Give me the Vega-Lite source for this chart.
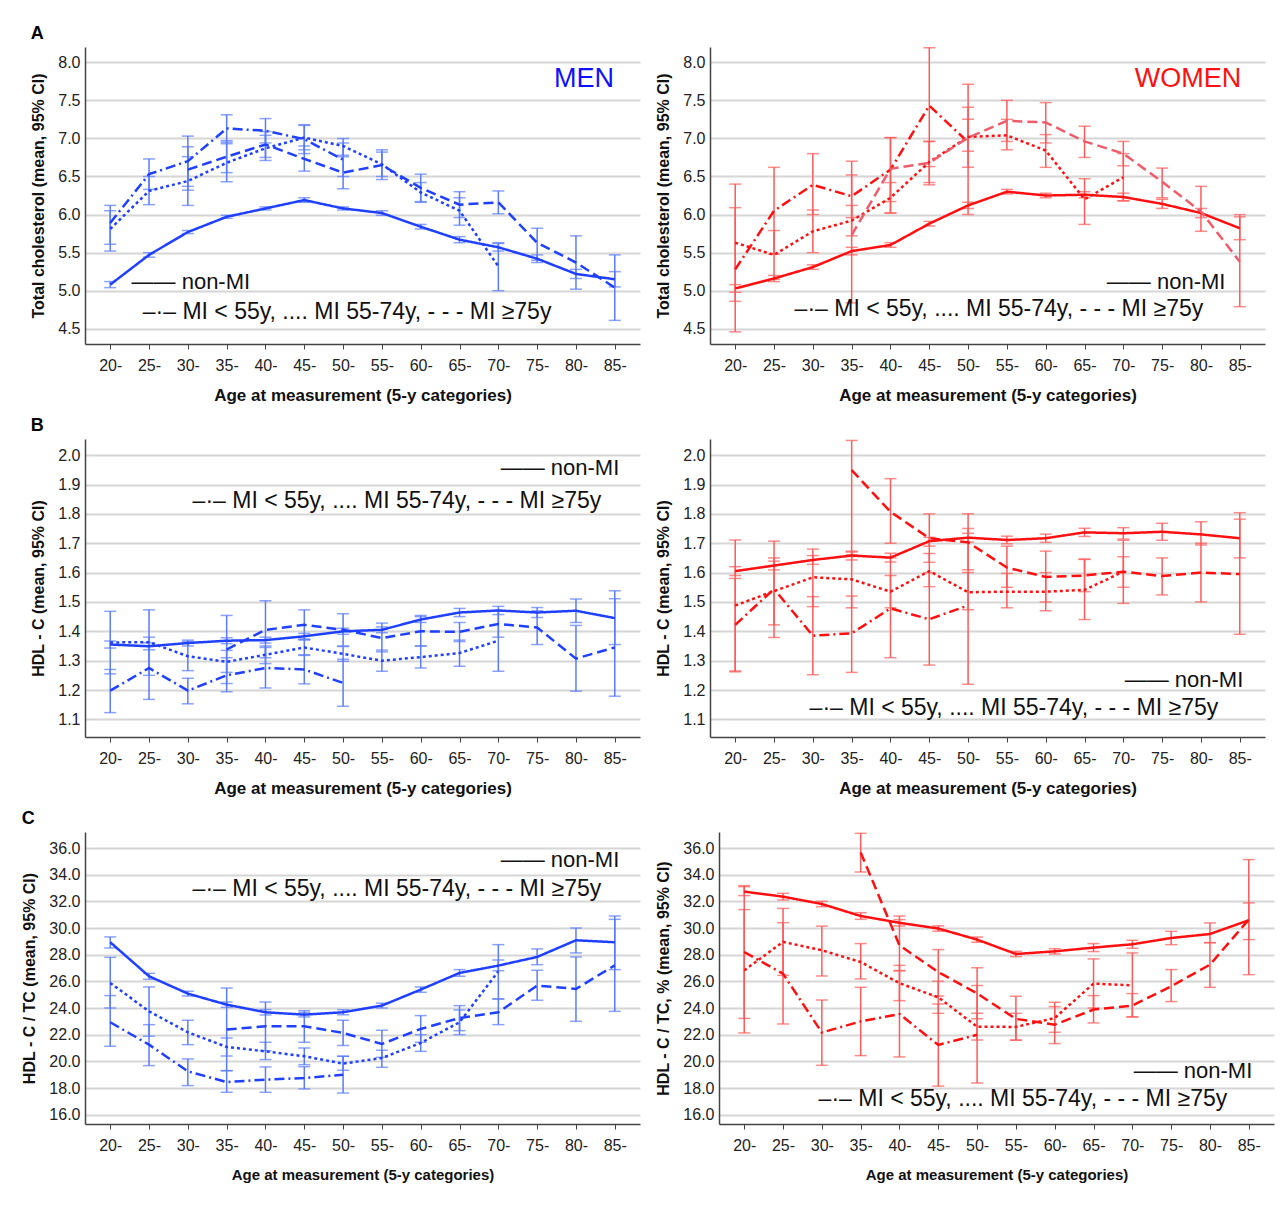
{
"$schema":"https://vega.github.io/schema/vega-lite/v6.json",
"padding":{"left":21,"top":25,"right":5,"bottom":5},
"background":"white",
"datasets":{
"d":[
{"p":"Am","g":"n","a":"20-","m":5.08,"lo":5.04,"hi":5.12},
{"p":"Am","g":"n","a":"25-","m":5.47,"lo":5.44,"hi":5.50},
{"p":"Am","g":"n","a":"30-","m":5.77,"lo":5.75,"hi":5.79},
{"p":"Am","g":"n","a":"35-","m":5.97,"lo":5.95,"hi":5.99},
{"p":"Am","g":"n","a":"40-","m":6.08,"lo":6.06,"hi":6.10},
{"p":"Am","g":"n","a":"45-","m":6.19,"lo":6.16,"hi":6.22},
{"p":"Am","g":"n","a":"50-","m":6.08,"lo":6.06,"hi":6.10},
{"p":"Am","g":"n","a":"55-","m":6.02,"lo":5.99,"hi":6.05},
{"p":"Am","g":"n","a":"60-","m":5.84,"lo":5.81,"hi":5.87},
{"p":"Am","g":"n","a":"65-","m":5.67,"lo":5.63,"hi":5.71},
{"p":"Am","g":"n","a":"70-","m":5.57,"lo":5.52,"hi":5.62},
{"p":"Am","g":"n","a":"75-","m":5.42,"lo":5.37,"hi":5.47},
{"p":"Am","g":"n","a":"80-","m":5.22,"lo":5.16,"hi":5.28},
{"p":"Am","g":"n","a":"85-","m":5.15,"lo":5.05,"hi":5.25},
{"p":"Am","g":"y","a":"20-","m":5.89,"lo":5.61,"hi":6.12},
{"p":"Am","g":"y","a":"25-","m":6.53,"lo":6.33,"hi":6.73},
{"p":"Am","g":"y","a":"30-","m":6.70,"lo":6.37,"hi":7.03},
{"p":"Am","g":"y","a":"35-","m":7.13,"lo":6.95,"hi":7.31},
{"p":"Am","g":"y","a":"40-","m":7.10,"lo":6.94,"hi":7.26},
{"p":"Am","g":"y","a":"45-","m":6.99,"lo":6.80,"hi":7.18},
{"p":"Am","g":"y","a":"50-","m":6.72,"lo":6.50,"hi":6.94},
{"p":"Am","g":"o","a":"20-","m":5.81,"lo":5.52,"hi":6.05},
{"p":"Am","g":"o","a":"25-","m":6.31,"lo":6.13,"hi":6.50},
{"p":"Am","g":"o","a":"30-","m":6.44,"lo":6.12,"hi":6.76},
{"p":"Am","g":"o","a":"35-","m":6.68,"lo":6.43,"hi":6.93},
{"p":"Am","g":"o","a":"40-","m":6.87,"lo":6.71,"hi":7.04},
{"p":"Am","g":"o","a":"45-","m":7.01,"lo":6.85,"hi":7.17},
{"p":"Am","g":"o","a":"50-","m":6.90,"lo":6.78,"hi":7.00},
{"p":"Am","g":"o","a":"55-","m":6.66,"lo":6.50,"hi":6.82},
{"p":"Am","g":"o","a":"60-","m":6.29,"lo":6.16,"hi":6.42},
{"p":"Am","g":"o","a":"65-","m":6.05,"lo":5.86,"hi":6.22},
{"p":"Am","g":"o","a":"70-","m":5.32,"lo":5.00,"hi":5.63},
{"p":"Am","g":"e","a":"30-","m":6.59,"lo":6.32,"hi":6.89},
{"p":"Am","g":"e","a":"35-","m":6.76,"lo":6.55,"hi":6.97},
{"p":"Am","g":"e","a":"40-","m":6.92,"lo":6.75,"hi":7.09},
{"p":"Am","g":"e","a":"45-","m":6.73,"lo":6.57,"hi":6.90},
{"p":"Am","g":"e","a":"50-","m":6.55,"lo":6.34,"hi":6.76},
{"p":"Am","g":"e","a":"55-","m":6.65,"lo":6.46,"hi":6.85},
{"p":"Am","g":"e","a":"60-","m":6.35,"lo":6.17,"hi":6.53},
{"p":"Am","g":"e","a":"65-","m":6.13,"lo":5.96,"hi":6.30},
{"p":"Am","g":"e","a":"70-","m":6.16,"lo":6.01,"hi":6.31},
{"p":"Am","g":"e","a":"75-","m":5.63,"lo":5.40,"hi":5.82},
{"p":"Am","g":"e","a":"80-","m":5.37,"lo":5.02,"hi":5.72},
{"p":"Am","g":"e","a":"85-","m":5.04,"lo":4.61,"hi":5.47},

{"p":"Aw","g":"n","a":"20-","m":5.03,"lo":4.98,"hi":5.08},
{"p":"Aw","g":"n","a":"25-","m":5.16,"lo":5.12,"hi":5.20},
{"p":"Aw","g":"n","a":"30-","m":5.31,"lo":5.28,"hi":5.34},
{"p":"Aw","g":"n","a":"35-","m":5.52,"lo":5.47,"hi":5.57},
{"p":"Aw","g":"n","a":"40-","m":5.60,"lo":5.57,"hi":5.63},
{"p":"Aw","g":"n","a":"45-","m":5.88,"lo":5.85,"hi":5.91},
{"p":"Aw","g":"n","a":"50-","m":6.12,"lo":6.08,"hi":6.16},
{"p":"Aw","g":"n","a":"55-","m":6.30,"lo":6.27,"hi":6.33},
{"p":"Aw","g":"n","a":"60-","m":6.25,"lo":6.22,"hi":6.28},
{"p":"Aw","g":"n","a":"65-","m":6.26,"lo":6.22,"hi":6.30},
{"p":"Aw","g":"n","a":"70-","m":6.23,"lo":6.18,"hi":6.28},
{"p":"Aw","g":"n","a":"75-","m":6.14,"lo":6.08,"hi":6.20},
{"p":"Aw","g":"n","a":"80-","m":6.02,"lo":5.96,"hi":6.08},
{"p":"Aw","g":"n","a":"85-","m":5.82,"lo":5.67,"hi":5.97},
{"p":"Aw","g":"y","a":"20-","m":5.28,"lo":4.46,"hi":6.40},
{"p":"Aw","g":"y","a":"25-","m":6.05,"lo":5.48,"hi":6.62},
{"p":"Aw","g":"y","a":"30-","m":6.39,"lo":6.00,"hi":6.80},
{"p":"Aw","g":"y","a":"35-","m":6.24,"lo":5.96,"hi":6.52},
{"p":"Aw","g":"y","a":"40-","m":6.59,"lo":6.17,"hi":7.01},
{"p":"Aw","g":"y","a":"45-","m":7.43,"lo":6.63,"hi":8.19},
{"p":"Aw","g":"y","a":"50-","m":6.95,"lo":6.00,"hi":7.71},
{"p":"Aw","g":"o","a":"20-","m":5.63,"lo":4.86,"hi":6.09},
{"p":"Aw","g":"o","a":"25-","m":5.47,"lo":5.15,"hi":5.79},
{"p":"Aw","g":"o","a":"30-","m":5.78,"lo":5.50,"hi":6.06},
{"p":"Aw","g":"o","a":"35-","m":5.92,"lo":5.72,"hi":6.12},
{"p":"Aw","g":"o","a":"40-","m":6.22,"lo":6.02,"hi":6.42},
{"p":"Aw","g":"o","a":"45-","m":6.69,"lo":6.42,"hi":6.96},
{"p":"Aw","g":"o","a":"50-","m":7.02,"lo":6.62,"hi":7.41},
{"p":"Aw","g":"o","a":"55-","m":7.04,"lo":6.85,"hi":7.25},
{"p":"Aw","g":"o","a":"60-","m":6.84,"lo":6.62,"hi":7.05},
{"p":"Aw","g":"o","a":"65-","m":6.20,"lo":5.87,"hi":6.47},
{"p":"Aw","g":"o","a":"70-","m":6.49,"lo":6.18,"hi":6.80},
{"p":"Aw","g":"e","a":"35-","m":5.73,"lo":4.84,"hi":6.70},
{"p":"Aw","g":"e","a":"40-","m":6.60,"lo":6.02,"hi":7.01},
{"p":"Aw","g":"e","a":"45-","m":6.68,"lo":6.39,"hi":6.96},
{"p":"Aw","g":"e","a":"50-","m":7.01,"lo":6.83,"hi":7.25},
{"p":"Aw","g":"e","a":"55-","m":7.23,"lo":6.96,"hi":7.50},
{"p":"Aw","g":"e","a":"60-","m":7.21,"lo":6.94,"hi":7.47},
{"p":"Aw","g":"e","a":"65-","m":6.96,"lo":6.75,"hi":7.16},
{"p":"Aw","g":"e","a":"70-","m":6.80,"lo":6.64,"hi":6.96},
{"p":"Aw","g":"e","a":"75-","m":6.43,"lo":6.22,"hi":6.61},
{"p":"Aw","g":"e","a":"80-","m":6.04,"lo":5.78,"hi":6.37},
{"p":"Aw","g":"e","a":"85-","m":5.38,"lo":4.79,"hi":6.00},

{"p":"Bm","g":"n","a":"20-","m":1.355,"lo":1.343,"hi":1.367},
{"p":"Bm","g":"n","a":"25-","m":1.349,"lo":1.337,"hi":1.361},
{"p":"Bm","g":"n","a":"30-","m":1.360,"lo":1.350,"hi":1.370},
{"p":"Bm","g":"n","a":"35-","m":1.368,"lo":1.358,"hi":1.378},
{"p":"Bm","g":"n","a":"40-","m":1.370,"lo":1.360,"hi":1.380},
{"p":"Bm","g":"n","a":"45-","m":1.383,"lo":1.373,"hi":1.393},
{"p":"Bm","g":"n","a":"50-","m":1.400,"lo":1.390,"hi":1.410},
{"p":"Bm","g":"n","a":"55-","m":1.405,"lo":1.395,"hi":1.415},
{"p":"Bm","g":"n","a":"60-","m":1.440,"lo":1.430,"hi":1.450},
{"p":"Bm","g":"n","a":"65-","m":1.464,"lo":1.450,"hi":1.478},
{"p":"Bm","g":"n","a":"70-","m":1.471,"lo":1.457,"hi":1.485},
{"p":"Bm","g":"n","a":"75-","m":1.464,"lo":1.447,"hi":1.481},
{"p":"Bm","g":"n","a":"80-","m":1.470,"lo":1.430,"hi":1.510},
{"p":"Bm","g":"n","a":"85-","m":1.445,"lo":1.355,"hi":1.538},
{"p":"Bm","g":"y","a":"20-","m":1.198,"lo":1.123,"hi":1.270},
{"p":"Bm","g":"y","a":"25-","m":1.275,"lo":1.168,"hi":1.380},
{"p":"Bm","g":"y","a":"30-","m":1.198,"lo":1.153,"hi":1.240},
{"p":"Bm","g":"y","a":"35-","m":1.250,"lo":1.194,"hi":1.310},
{"p":"Bm","g":"y","a":"40-","m":1.275,"lo":1.207,"hi":1.345},
{"p":"Bm","g":"y","a":"45-","m":1.270,"lo":1.221,"hi":1.320},
{"p":"Bm","g":"y","a":"50-","m":1.224,"lo":1.145,"hi":1.305},
{"p":"Bm","g":"o","a":"20-","m":1.362,"lo":1.255,"hi":1.468},
{"p":"Bm","g":"o","a":"25-","m":1.363,"lo":1.250,"hi":1.473},
{"p":"Bm","g":"o","a":"30-","m":1.315,"lo":1.266,"hi":1.365},
{"p":"Bm","g":"o","a":"35-","m":1.296,"lo":1.260,"hi":1.335},
{"p":"Bm","g":"o","a":"40-","m":1.320,"lo":1.290,"hi":1.350},
{"p":"Bm","g":"o","a":"45-","m":1.345,"lo":1.318,"hi":1.373},
{"p":"Bm","g":"o","a":"50-","m":1.323,"lo":1.298,"hi":1.348},
{"p":"Bm","g":"o","a":"55-","m":1.300,"lo":1.264,"hi":1.336},
{"p":"Bm","g":"o","a":"60-","m":1.312,"lo":1.275,"hi":1.350},
{"p":"Bm","g":"o","a":"65-","m":1.326,"lo":1.281,"hi":1.370},
{"p":"Bm","g":"o","a":"70-","m":1.368,"lo":1.264,"hi":1.470},
{"p":"Bm","g":"e","a":"35-","m":1.338,"lo":1.222,"hi":1.454},
{"p":"Bm","g":"e","a":"40-","m":1.405,"lo":1.310,"hi":1.504},
{"p":"Bm","g":"e","a":"45-","m":1.422,"lo":1.370,"hi":1.473},
{"p":"Bm","g":"e","a":"50-","m":1.405,"lo":1.350,"hi":1.460},
{"p":"Bm","g":"e","a":"55-","m":1.377,"lo":1.330,"hi":1.428},
{"p":"Bm","g":"e","a":"60-","m":1.400,"lo":1.350,"hi":1.454},
{"p":"Bm","g":"e","a":"65-","m":1.398,"lo":1.365,"hi":1.430},
{"p":"Bm","g":"e","a":"70-","m":1.425,"lo":1.380,"hi":1.470},
{"p":"Bm","g":"e","a":"75-","m":1.413,"lo":1.355,"hi":1.470},
{"p":"Bm","g":"e","a":"80-","m":1.307,"lo":1.196,"hi":1.420},
{"p":"Bm","g":"e","a":"85-","m":1.345,"lo":1.179,"hi":1.511},

{"p":"Bw","g":"n","a":"20-","m":1.605,"lo":1.590,"hi":1.620},
{"p":"Bw","g":"n","a":"25-","m":1.624,"lo":1.609,"hi":1.639},
{"p":"Bw","g":"n","a":"30-","m":1.643,"lo":1.628,"hi":1.658},
{"p":"Bw","g":"n","a":"35-","m":1.658,"lo":1.643,"hi":1.673},
{"p":"Bw","g":"n","a":"40-","m":1.651,"lo":1.636,"hi":1.666},
{"p":"Bw","g":"n","a":"45-","m":1.707,"lo":1.690,"hi":1.720},
{"p":"Bw","g":"n","a":"50-","m":1.719,"lo":1.704,"hi":1.734},
{"p":"Bw","g":"n","a":"55-","m":1.711,"lo":1.698,"hi":1.724},
{"p":"Bw","g":"n","a":"60-","m":1.717,"lo":1.703,"hi":1.731},
{"p":"Bw","g":"n","a":"65-","m":1.737,"lo":1.723,"hi":1.751},
{"p":"Bw","g":"n","a":"70-","m":1.734,"lo":1.714,"hi":1.753},
{"p":"Bw","g":"n","a":"75-","m":1.739,"lo":1.710,"hi":1.768},
{"p":"Bw","g":"n","a":"80-","m":1.730,"lo":1.694,"hi":1.773},
{"p":"Bw","g":"n","a":"85-","m":1.717,"lo":1.650,"hi":1.782},
{"p":"Bw","g":"y","a":"20-","m":1.422,"lo":1.262,"hi":1.580},
{"p":"Bw","g":"y","a":"25-","m":1.544,"lo":1.379,"hi":1.707},
{"p":"Bw","g":"y","a":"30-","m":1.385,"lo":1.252,"hi":1.518},
{"p":"Bw","g":"y","a":"35-","m":1.393,"lo":1.260,"hi":1.520},
{"p":"Bw","g":"y","a":"40-","m":1.478,"lo":1.310,"hi":1.650},
{"p":"Bw","g":"y","a":"45-","m":1.441,"lo":1.285,"hi":1.600},
{"p":"Bw","g":"y","a":"50-","m":1.488,"lo":1.220,"hi":1.750},
{"p":"Bw","g":"o","a":"20-","m":1.488,"lo":1.265,"hi":1.711},
{"p":"Bw","g":"o","a":"25-","m":1.537,"lo":1.422,"hi":1.650},
{"p":"Bw","g":"o","a":"30-","m":1.584,"lo":1.484,"hi":1.680},
{"p":"Bw","g":"o","a":"35-","m":1.577,"lo":1.480,"hi":1.670},
{"p":"Bw","g":"o","a":"40-","m":1.535,"lo":1.480,"hi":1.590},
{"p":"Bw","g":"o","a":"45-","m":1.605,"lo":1.552,"hi":1.665},
{"p":"Bw","g":"o","a":"50-","m":1.533,"lo":1.473,"hi":1.600},
{"p":"Bw","g":"o","a":"55-","m":1.535,"lo":1.480,"hi":1.597},
{"p":"Bw","g":"o","a":"60-","m":1.535,"lo":1.470,"hi":1.600},
{"p":"Bw","g":"o","a":"65-","m":1.541,"lo":1.440,"hi":1.645},
{"p":"Bw","g":"o","a":"70-","m":1.603,"lo":1.495,"hi":1.710},
{"p":"Bw","g":"e","a":"35-","m":1.949,"lo":1.660,"hi":2.050},
{"p":"Bw","g":"e","a":"40-","m":1.807,"lo":1.700,"hi":1.920},
{"p":"Bw","g":"e","a":"45-","m":1.717,"lo":1.635,"hi":1.800},
{"p":"Bw","g":"e","a":"50-","m":1.703,"lo":1.610,"hi":1.800},
{"p":"Bw","g":"e","a":"55-","m":1.617,"lo":1.550,"hi":1.690},
{"p":"Bw","g":"e","a":"60-","m":1.585,"lo":1.500,"hi":1.673},
{"p":"Bw","g":"e","a":"65-","m":1.590,"lo":1.535,"hi":1.646},
{"p":"Bw","g":"e","a":"70-","m":1.603,"lo":1.550,"hi":1.654},
{"p":"Bw","g":"e","a":"75-","m":1.588,"lo":1.524,"hi":1.650},
{"p":"Bw","g":"e","a":"80-","m":1.600,"lo":1.500,"hi":1.700},
{"p":"Bw","g":"e","a":"85-","m":1.595,"lo":1.390,"hi":1.804},

{"p":"Cm","g":"n","a":"20-","m":28.93,"lo":28.5,"hi":29.33},
{"p":"Cm","g":"n","a":"25-","m":26.38,"lo":26.15,"hi":26.6},
{"p":"Cm","g":"n","a":"30-","m":25.08,"lo":24.9,"hi":25.26},
{"p":"Cm","g":"n","a":"35-","m":24.25,"lo":24.05,"hi":24.45},
{"p":"Cm","g":"n","a":"40-","m":23.68,"lo":23.48,"hi":23.88},
{"p":"Cm","g":"n","a":"45-","m":23.5,"lo":23.33,"hi":23.67},
{"p":"Cm","g":"n","a":"50-","m":23.68,"lo":23.5,"hi":23.86},
{"p":"Cm","g":"n","a":"55-","m":24.18,"lo":24.0,"hi":24.36},
{"p":"Cm","g":"n","a":"60-","m":25.38,"lo":25.18,"hi":25.58},
{"p":"Cm","g":"n","a":"65-","m":26.63,"lo":26.38,"hi":26.88},
{"p":"Cm","g":"n","a":"70-","m":27.18,"lo":26.8,"hi":27.6},
{"p":"Cm","g":"n","a":"75-","m":27.83,"lo":27.25,"hi":28.43},
{"p":"Cm","g":"n","a":"80-","m":29.08,"lo":28.13,"hi":30.0},
{"p":"Cm","g":"n","a":"85-","m":28.93,"lo":26.88,"hi":30.9},
{"p":"Cm","g":"y","a":"20-","m":22.93,"lo":21.13,"hi":24.93},
{"p":"Cm","g":"y","a":"25-","m":21.25,"lo":19.68,"hi":22.75},
{"p":"Cm","g":"y","a":"30-","m":19.25,"lo":18.18,"hi":20.18},
{"p":"Cm","g":"y","a":"35-","m":18.45,"lo":17.68,"hi":19.3},
{"p":"Cm","g":"y","a":"40-","m":18.63,"lo":17.68,"hi":19.58},
{"p":"Cm","g":"y","a":"45-","m":18.75,"lo":17.93,"hi":19.6},
{"p":"Cm","g":"y","a":"50-","m":19.0,"lo":17.63,"hi":20.38},
{"p":"Cm","g":"o","a":"20-","m":25.88,"lo":24.0,"hi":27.8},
{"p":"Cm","g":"o","a":"25-","m":23.75,"lo":21.88,"hi":25.58},
{"p":"Cm","g":"o","a":"30-","m":22.18,"lo":21.25,"hi":23.08},
{"p":"Cm","g":"o","a":"35-","m":21.08,"lo":20.4,"hi":21.75},
{"p":"Cm","g":"o","a":"40-","m":20.75,"lo":20.13,"hi":21.43},
{"p":"Cm","g":"o","a":"45-","m":20.38,"lo":19.75,"hi":21.0},
{"p":"Cm","g":"o","a":"50-","m":19.83,"lo":19.33,"hi":20.38},
{"p":"Cm","g":"o","a":"55-","m":20.25,"lo":19.55,"hi":20.83},
{"p":"Cm","g":"o","a":"60-","m":21.38,"lo":20.75,"hi":22.0},
{"p":"Cm","g":"o","a":"65-","m":22.93,"lo":22.0,"hi":23.85},
{"p":"Cm","g":"o","a":"70-","m":26.75,"lo":24.68,"hi":28.75},
{"p":"Cm","g":"e","a":"35-","m":22.38,"lo":19.3,"hi":25.5},
{"p":"Cm","g":"e","a":"40-","m":22.63,"lo":20.8,"hi":24.45},
{"p":"Cm","g":"e","a":"45-","m":22.63,"lo":21.43,"hi":23.8},
{"p":"Cm","g":"e","a":"50-","m":22.13,"lo":21.18,"hi":23.08},
{"p":"Cm","g":"e","a":"55-","m":21.3,"lo":20.3,"hi":22.33},
{"p":"Cm","g":"e","a":"60-","m":22.43,"lo":21.43,"hi":23.43},
{"p":"Cm","g":"e","a":"65-","m":23.25,"lo":22.3,"hi":24.18},
{"p":"Cm","g":"e","a":"70-","m":23.68,"lo":22.75,"hi":24.68},
{"p":"Cm","g":"e","a":"75-","m":25.68,"lo":24.58,"hi":26.83},
{"p":"Cm","g":"e","a":"80-","m":25.43,"lo":23.0,"hi":27.83},
{"p":"Cm","g":"e","a":"85-","m":27.2,"lo":23.75,"hi":30.65},

{"p":"Cw","g":"n","a":"20-","m":32.73,"lo":32.43,"hi":33.18},
{"p":"Cw","g":"n","a":"25-","m":32.35,"lo":32.1,"hi":32.6},
{"p":"Cw","g":"n","a":"30-","m":31.8,"lo":31.6,"hi":32.0},
{"p":"Cw","g":"n","a":"35-","m":30.9,"lo":30.65,"hi":31.15},
{"p":"Cw","g":"n","a":"40-","m":30.39,"lo":30.15,"hi":30.63},
{"p":"Cw","g":"n","a":"45-","m":29.96,"lo":29.76,"hi":30.16},
{"p":"Cw","g":"n","a":"50-","m":29.13,"lo":28.93,"hi":29.33},
{"p":"Cw","g":"n","a":"55-","m":28.05,"lo":27.85,"hi":28.25},
{"p":"Cw","g":"n","a":"60-","m":28.25,"lo":28.05,"hi":28.45},
{"p":"Cw","g":"n","a":"65-","m":28.53,"lo":28.23,"hi":28.83},
{"p":"Cw","g":"n","a":"70-","m":28.78,"lo":28.48,"hi":29.08},
{"p":"Cw","g":"n","a":"75-","m":29.25,"lo":28.75,"hi":29.75},
{"p":"Cw","g":"n","a":"80-","m":29.55,"lo":28.9,"hi":30.38},
{"p":"Cw","g":"n","a":"85-","m":30.58,"lo":29.13,"hi":31.88},
{"p":"Cw","g":"y","a":"20-","m":28.2,"lo":23.22,"hi":33.1},
{"p":"Cw","g":"y","a":"25-","m":26.57,"lo":22.8,"hi":30.4},
{"p":"Cw","g":"y","a":"30-","m":22.16,"lo":19.7,"hi":24.6},
{"p":"Cw","g":"y","a":"35-","m":22.99,"lo":20.43,"hi":25.55},
{"p":"Cw","g":"y","a":"40-","m":23.55,"lo":20.33,"hi":26.8},
{"p":"Cw","g":"y","a":"45-","m":21.23,"lo":18.14,"hi":24.3},
{"p":"Cw","g":"y","a":"50-","m":21.99,"lo":18.38,"hi":25.68},
{"p":"Cw","g":"o","a":"20-","m":26.82,"lo":22.13,"hi":31.38},
{"p":"Cw","g":"o","a":"25-","m":28.96,"lo":26.45,"hi":31.47},
{"p":"Cw","g":"o","a":"30-","m":28.33,"lo":26.4,"hi":30.14},
{"p":"Cw","g":"o","a":"35-","m":27.45,"lo":26.18,"hi":28.83},
{"p":"Cw","g":"o","a":"40-","m":25.86,"lo":24.55,"hi":27.2},
{"p":"Cw","g":"o","a":"45-","m":24.8,"lo":23.6,"hi":26.0},
{"p":"Cw","g":"o","a":"50-","m":22.6,"lo":21.6,"hi":23.6},
{"p":"Cw","g":"o","a":"55-","m":22.58,"lo":21.6,"hi":23.6},
{"p":"Cw","g":"o","a":"60-","m":23.25,"lo":22.18,"hi":24.43},
{"p":"Cw","g":"o","a":"65-","m":25.83,"lo":24.0,"hi":27.68},
{"p":"Cw","g":"o","a":"70-","m":25.7,"lo":23.33,"hi":28.13},
{"p":"Cw","g":"e","a":"35-","m":35.67,"lo":34.2,"hi":37.1},
{"p":"Cw","g":"e","a":"40-","m":28.7,"lo":26.8,"hi":30.9},
{"p":"Cw","g":"e","a":"45-","m":26.69,"lo":24.9,"hi":28.38},
{"p":"Cw","g":"e","a":"50-","m":25.1,"lo":23.2,"hi":27.02},
{"p":"Cw","g":"e","a":"55-","m":23.18,"lo":21.58,"hi":24.88},
{"p":"Cw","g":"e","a":"60-","m":22.75,"lo":21.33,"hi":24.1},
{"p":"Cw","g":"e","a":"65-","m":23.88,"lo":22.88,"hi":24.93},
{"p":"Cw","g":"e","a":"70-","m":24.18,"lo":23.33,"hi":25.08},
{"p":"Cw","g":"e","a":"75-","m":25.63,"lo":24.48,"hi":26.88},
{"p":"Cw","g":"e","a":"80-","m":27.25,"lo":25.55,"hi":28.9},
{"p":"Cw","g":"e","a":"85-","m":30.63,"lo":26.5,"hi":35.13}
],
"notes":[
{"p":"Am","k":"n","a":"30-","v":5.11,"t":"—— non-MI"},
{"p":"Am","k":"g","a":"50-","v":4.72,"t":"–·–  MI < 55y,   .... MI 55-74y,   - - -  MI ≥75y"},
{"p":"Am","k":"s","a":"80-","v":7.78,"t":"MEN"},
{"p":"Aw","k":"n","a":"75-","v":5.11,"t":"—— non-MI"},
{"p":"Aw","k":"g","a":"55-","v":4.76,"t":"–·–  MI < 55y,   .... MI 55-74y,   - - -  MI ≥75y"},
{"p":"Aw","k":"s","a":"80-","v":7.78,"t":"WOMEN"},
{"p":"Bm","k":"n","a":"80-","v":1.956,"t":"—— non-MI"},
{"p":"Bm","k":"g","a":"55-","v":1.844,"t":"–·–  MI < 55y,   .... MI 55-74y,   - - -  MI ≥75y"},
{"p":"Bw","k":"n","a":"80-","v":1.235,"t":"—— non-MI"},
{"p":"Bw","k":"g","a":"55-","v":1.14,"t":"–·–  MI < 55y,   .... MI 55-74y,   - - -  MI ≥75y"},
{"p":"Cm","k":"n","a":"80-","v":35.1,"t":"—— non-MI"},
{"p":"Cm","k":"g","a":"55-","v":32.93,"t":"–·–  MI < 55y,   .... MI 55-74y,   - - -  MI ≥75y"},
{"p":"Cw","k":"n","a":"80-","v":19.3,"t":"—— non-MI"},
{"p":"Cw","k":"g","a":"55-","v":17.2,"t":"–·–  MI < 55y,   .... MI 55-74y,   - - -  MI ≥75y"}
]
},
"spacing":14,
"vconcat":[
{"title":{"text":"A"},"spacing":15,"hconcat":[
{"width":555,"height":297,
 "encoding":{"x":{"field":"a","type":"ordinal","scale":{"type":"point","padding":0.65,"domain":["20-","25-","30-","35-","40-","45-","50-","55-","60-","65-","70-","75-","80-","85-"]},"axis":{"title":"Age at measurement (5-y categories)"}}},
 "layer":[
  {"data":{"name":"d"},"transform":[{"filter":"datum.p=='Am'"}],"mark":{"type":"rule","color":"#5a7bff","strokeWidth":1.5},
   "encoding":{"y":{"field":"lo","type":"quantitative","scale":{"domain":[4.3,8.2],"nice":false,"zero":false},"axis":{"title":"Total cholesterol (mean, 95% CI)","values":[4.5,5,5.5,6,6.5,7,7.5,8],"tickCount":20,"format":".1f"}},"y2":{"field":"hi"}}},
  {"data":{"name":"d"},"transform":[{"filter":"datum.p=='Am'"}],"mark":{"type":"tick","color":"#5a7bff","size":12,"thickness":1.5},
   "encoding":{"y":{"field":"lo","type":"quantitative","scale":{"domain":[4.3,8.2],"nice":false,"zero":false}}}},
  {"data":{"name":"d"},"transform":[{"filter":"datum.p=='Am'"}],"mark":{"type":"tick","color":"#5a7bff","size":12,"thickness":1.5},
   "encoding":{"y":{"field":"hi","type":"quantitative","scale":{"domain":[4.3,8.2],"nice":false,"zero":false}}}},
  {"data":{"name":"d"},"transform":[{"filter":"datum.p=='Am'"}],"mark":{"type":"line","color":"#1f40ff","strokeWidth":2.5},
   "encoding":{"y":{"field":"m","type":"quantitative","scale":{"domain":[4.3,8.2],"nice":false,"zero":false}},"strokeDash":{"field":"g","type":"nominal","scale":{"domain":["n","y","o","e"],"range":[[1,0],[10,4,2,4],[3,3],[10,5]]},"legend":null}}},
  {"data":{"name":"notes"},"transform":[{"filter":"datum.p=='Am' && datum.k=='n'"}],"mark":{"type":"text","fontSize":22,"dx":3,"color":"#111"},
   "encoding":{"y":{"field":"v","type":"quantitative","scale":{"domain":[4.3,8.2],"nice":false,"zero":false}},"text":{"field":"t"}}},
  {"data":{"name":"notes"},"transform":[{"filter":"datum.p=='Am' && datum.k=='g'"}],"mark":{"type":"text","fontSize":23,"dx":4,"color":"#111"},
   "encoding":{"y":{"field":"v","type":"quantitative","scale":{"domain":[4.3,8.2],"nice":false,"zero":false}},"text":{"field":"t"}}},
  {"data":{"name":"notes"},"transform":[{"filter":"datum.p=='Am' && datum.k=='s'"}],"mark":{"type":"text","fontSize":27,"dx":8,"color":"#1010ff"},
   "encoding":{"y":{"field":"v","type":"quantitative","scale":{"domain":[4.3,8.2],"nice":false,"zero":false}},"text":{"field":"t"}}}
 ]},
{"width":555,"height":297,
 "encoding":{"x":{"field":"a","type":"ordinal","scale":{"type":"point","padding":0.65,"domain":["20-","25-","30-","35-","40-","45-","50-","55-","60-","65-","70-","75-","80-","85-"]},"axis":{"title":"Age at measurement (5-y categories)"}}},
 "layer":[
  {"data":{"name":"d"},"transform":[{"filter":"datum.p=='Aw'"}],"mark":{"type":"rule","color":"#ff5a5a","strokeWidth":1.5},
   "encoding":{"y":{"field":"lo","type":"quantitative","scale":{"domain":[4.3,8.2],"nice":false,"zero":false},"axis":{"title":"Total cholesterol (mean, 95% CI)","values":[4.5,5,5.5,6,6.5,7,7.5,8],"tickCount":20,"format":".1f"}},"y2":{"field":"hi"}}},
  {"data":{"name":"d"},"transform":[{"filter":"datum.p=='Aw'"}],"mark":{"type":"tick","color":"#ff5a5a","size":12,"thickness":1.5},
   "encoding":{"y":{"field":"lo","type":"quantitative","scale":{"domain":[4.3,8.2],"nice":false,"zero":false}}}},
  {"data":{"name":"d"},"transform":[{"filter":"datum.p=='Aw'"}],"mark":{"type":"tick","color":"#ff5a5a","size":12,"thickness":1.5},
   "encoding":{"y":{"field":"hi","type":"quantitative","scale":{"domain":[4.3,8.2],"nice":false,"zero":false}}}},
  {"data":{"name":"d"},"transform":[{"filter":"datum.p=='Aw' && datum.g!='e'"}],"mark":{"type":"line","color":"#ff1010","strokeWidth":2.5},
   "encoding":{"y":{"field":"m","type":"quantitative","scale":{"domain":[4.3,8.2],"nice":false,"zero":false}},"strokeDash":{"field":"g","type":"nominal","scale":{"domain":["n","y","o","e"],"range":[[1,0],[10,4,2,4],[3,3],[10,5]]},"legend":null}}},
  {"data":{"name":"d"},"transform":[{"filter":"datum.p=='Aw' && datum.g=='e'"}],"mark":{"type":"line","color":"#ee5c6c","strokeWidth":2.5},
   "encoding":{"y":{"field":"m","type":"quantitative","scale":{"domain":[4.3,8.2],"nice":false,"zero":false}},"strokeDash":{"field":"g","type":"nominal","scale":{"domain":["n","y","o","e"],"range":[[1,0],[10,4,2,4],[3,3],[10,5]]},"legend":null}}},
  {"data":{"name":"notes"},"transform":[{"filter":"datum.p=='Aw' && datum.k=='n'"}],"mark":{"type":"text","fontSize":22,"dx":4,"color":"#111"},
   "encoding":{"y":{"field":"v","type":"quantitative","scale":{"domain":[4.3,8.2],"nice":false,"zero":false}},"text":{"field":"t"}}},
  {"data":{"name":"notes"},"transform":[{"filter":"datum.p=='Aw' && datum.k=='g'"}],"mark":{"type":"text","fontSize":23,"dx":-8,"color":"#111"},
   "encoding":{"y":{"field":"v","type":"quantitative","scale":{"domain":[4.3,8.2],"nice":false,"zero":false}},"text":{"field":"t"}}},
  {"data":{"name":"notes"},"transform":[{"filter":"datum.p=='Aw' && datum.k=='s'"}],"mark":{"type":"text","fontSize":27,"dx":-13,"color":"#ff1010"},
   "encoding":{"y":{"field":"v","type":"quantitative","scale":{"domain":[4.3,8.2],"nice":false,"zero":false}},"text":{"field":"t"}}}
 ]}
]},
{"title":{"text":"B"},"spacing":15,"hconcat":[
{"width":555,"height":298,
 "encoding":{"x":{"field":"a","type":"ordinal","scale":{"type":"point","padding":0.65,"domain":["20-","25-","30-","35-","40-","45-","50-","55-","60-","65-","70-","75-","80-","85-"]},"axis":{"title":"Age at measurement (5-y categories)"}}},
 "layer":[
  {"data":{"name":"d"},"transform":[{"filter":"datum.p=='Bm'"}],"mark":{"type":"rule","color":"#5a7bff","strokeWidth":1.5},
   "encoding":{"y":{"field":"lo","type":"quantitative","scale":{"domain":[1.04,2.055],"nice":false,"zero":false},"axis":{"title":"HDL - C (mean, 95% CI)","values":[1.1,1.2,1.3,1.4,1.5,1.6,1.7,1.8,1.9,2.0],"tickCount":20,"format":".1f"}},"y2":{"field":"hi"}}},
  {"data":{"name":"d"},"transform":[{"filter":"datum.p=='Bm'"}],"mark":{"type":"tick","color":"#5a7bff","size":12,"thickness":1.5},
   "encoding":{"y":{"field":"lo","type":"quantitative","scale":{"domain":[1.04,2.055],"nice":false,"zero":false}}}},
  {"data":{"name":"d"},"transform":[{"filter":"datum.p=='Bm'"}],"mark":{"type":"tick","color":"#5a7bff","size":12,"thickness":1.5},
   "encoding":{"y":{"field":"hi","type":"quantitative","scale":{"domain":[1.04,2.055],"nice":false,"zero":false}}}},
  {"data":{"name":"d"},"transform":[{"filter":"datum.p=='Bm'"}],"mark":{"type":"line","color":"#1f40ff","strokeWidth":2.5},
   "encoding":{"y":{"field":"m","type":"quantitative","scale":{"domain":[1.04,2.055],"nice":false,"zero":false}},"strokeDash":{"field":"g","type":"nominal","scale":{"domain":["n","y","o","e"],"range":[[1,0],[10,4,2,4],[3,3],[10,5]]},"legend":null}}},
  {"data":{"name":"notes"},"transform":[{"filter":"datum.p=='Bm' && datum.k=='n'"}],"mark":{"type":"text","fontSize":22,"dx":-16,"color":"#111"},
   "encoding":{"y":{"field":"v","type":"quantitative","scale":{"domain":[1.04,2.055],"nice":false,"zero":false}},"text":{"field":"t"}}},
  {"data":{"name":"notes"},"transform":[{"filter":"datum.p=='Bm' && datum.k=='g'"}],"mark":{"type":"text","fontSize":23,"dx":15,"color":"#111"},
   "encoding":{"y":{"field":"v","type":"quantitative","scale":{"domain":[1.04,2.055],"nice":false,"zero":false}},"text":{"field":"t"}}}
 ]},
{"width":555,"height":298,
 "encoding":{"x":{"field":"a","type":"ordinal","scale":{"type":"point","padding":0.65,"domain":["20-","25-","30-","35-","40-","45-","50-","55-","60-","65-","70-","75-","80-","85-"]},"axis":{"title":"Age at measurement (5-y categories)"}}},
 "layer":[
  {"data":{"name":"d"},"transform":[{"filter":"datum.p=='Bw'"}],"mark":{"type":"rule","color":"#ff5a5a","strokeWidth":1.5},
   "encoding":{"y":{"field":"lo","type":"quantitative","scale":{"domain":[1.04,2.055],"nice":false,"zero":false},"axis":{"title":"HDL - C (mean, 95% CI)","values":[1.1,1.2,1.3,1.4,1.5,1.6,1.7,1.8,1.9,2.0],"tickCount":20,"format":".1f"}},"y2":{"field":"hi"}}},
  {"data":{"name":"d"},"transform":[{"filter":"datum.p=='Bw'"}],"mark":{"type":"tick","color":"#ff5a5a","size":12,"thickness":1.5},
   "encoding":{"y":{"field":"lo","type":"quantitative","scale":{"domain":[1.04,2.055],"nice":false,"zero":false}}}},
  {"data":{"name":"d"},"transform":[{"filter":"datum.p=='Bw'"}],"mark":{"type":"tick","color":"#ff5a5a","size":12,"thickness":1.5},
   "encoding":{"y":{"field":"hi","type":"quantitative","scale":{"domain":[1.04,2.055],"nice":false,"zero":false}}}},
  {"data":{"name":"d"},"transform":[{"filter":"datum.p=='Bw'"}],"mark":{"type":"line","color":"#ff1010","strokeWidth":2.5},
   "encoding":{"y":{"field":"m","type":"quantitative","scale":{"domain":[1.04,2.055],"nice":false,"zero":false}},"strokeDash":{"field":"g","type":"nominal","scale":{"domain":["n","y","o","e"],"range":[[1,0],[10,4,2,4],[3,3],[10,5]]},"legend":null}}},
  {"data":{"name":"notes"},"transform":[{"filter":"datum.p=='Bw' && datum.k=='n'"}],"mark":{"type":"text","fontSize":22,"dx":-17,"color":"#111"},
   "encoding":{"y":{"field":"v","type":"quantitative","scale":{"domain":[1.04,2.055],"nice":false,"zero":false}},"text":{"field":"t"}}},
  {"data":{"name":"notes"},"transform":[{"filter":"datum.p=='Bw' && datum.k=='g'"}],"mark":{"type":"text","fontSize":23,"dx":7,"color":"#111"},
   "encoding":{"y":{"field":"v","type":"quantitative","scale":{"domain":[1.04,2.055],"nice":false,"zero":false}},"text":{"field":"t"}}}
 ]}
]},
{"title":{"text":"C"},"spacing":15,"hconcat":[
{"width":555,"height":292,
 "encoding":{"x":{"field":"a","type":"ordinal","scale":{"type":"point","padding":0.65,"domain":["20-","25-","30-","35-","40-","45-","50-","55-","60-","65-","70-","75-","80-","85-"]},"axis":{"title":"Age at measurement (5-y categories)","titleFontSize":15}}},
 "layer":[
  {"data":{"name":"d"},"transform":[{"filter":"datum.p=='Cm'"}],"mark":{"type":"rule","color":"#5a7bff","strokeWidth":1.5},
   "encoding":{"y":{"field":"lo","type":"quantitative","scale":{"domain":[15.3,37.2],"nice":false,"zero":false},"axis":{"title":"HDL - C / TC (mean, 95% CI)","values":[16,18,20,22,24,26,28,30,32,34,36],"tickCount":20,"format":".1f"}},"y2":{"field":"hi"}}},
  {"data":{"name":"d"},"transform":[{"filter":"datum.p=='Cm'"}],"mark":{"type":"tick","color":"#5a7bff","size":12,"thickness":1.5},
   "encoding":{"y":{"field":"lo","type":"quantitative","scale":{"domain":[15.3,37.2],"nice":false,"zero":false}}}},
  {"data":{"name":"d"},"transform":[{"filter":"datum.p=='Cm'"}],"mark":{"type":"tick","color":"#5a7bff","size":12,"thickness":1.5},
   "encoding":{"y":{"field":"hi","type":"quantitative","scale":{"domain":[15.3,37.2],"nice":false,"zero":false}}}},
  {"data":{"name":"d"},"transform":[{"filter":"datum.p=='Cm'"}],"mark":{"type":"line","color":"#1f40ff","strokeWidth":2.5},
   "encoding":{"y":{"field":"m","type":"quantitative","scale":{"domain":[15.3,37.2],"nice":false,"zero":false}},"strokeDash":{"field":"g","type":"nominal","scale":{"domain":["n","y","o","e"],"range":[[1,0],[10,4,2,4],[3,3],[10,5]]},"legend":null}}},
  {"data":{"name":"notes"},"transform":[{"filter":"datum.p=='Cm' && datum.k=='n'"}],"mark":{"type":"text","fontSize":22,"dx":-16,"color":"#111"},
   "encoding":{"y":{"field":"v","type":"quantitative","scale":{"domain":[15.3,37.2],"nice":false,"zero":false}},"text":{"field":"t"}}},
  {"data":{"name":"notes"},"transform":[{"filter":"datum.p=='Cm' && datum.k=='g'"}],"mark":{"type":"text","fontSize":23,"dx":15,"color":"#111"},
   "encoding":{"y":{"field":"v","type":"quantitative","scale":{"domain":[15.3,37.2],"nice":false,"zero":false}},"text":{"field":"t"}}}
 ]},
{"width":555,"height":292,
 "encoding":{"x":{"field":"a","type":"ordinal","scale":{"type":"point","padding":0.65,"domain":["20-","25-","30-","35-","40-","45-","50-","55-","60-","65-","70-","75-","80-","85-"]},"axis":{"title":"Age at measurement (5-y categories)","titleFontSize":15}}},
 "layer":[
  {"data":{"name":"d"},"transform":[{"filter":"datum.p=='Cw'"}],"mark":{"type":"rule","color":"#ff5a5a","strokeWidth":1.5},
   "encoding":{"y":{"field":"lo","type":"quantitative","scale":{"domain":[15.3,37.2],"nice":false,"zero":false},"axis":{"title":"HDL - C / TC, % (mean, 95% CI)","values":[16,18,20,22,24,26,28,30,32,34,36],"tickCount":20,"format":".1f"}},"y2":{"field":"hi"}}},
  {"data":{"name":"d"},"transform":[{"filter":"datum.p=='Cw'"}],"mark":{"type":"tick","color":"#ff5a5a","size":12,"thickness":1.5},
   "encoding":{"y":{"field":"lo","type":"quantitative","scale":{"domain":[15.3,37.2],"nice":false,"zero":false}}}},
  {"data":{"name":"d"},"transform":[{"filter":"datum.p=='Cw'"}],"mark":{"type":"tick","color":"#ff5a5a","size":12,"thickness":1.5},
   "encoding":{"y":{"field":"hi","type":"quantitative","scale":{"domain":[15.3,37.2],"nice":false,"zero":false}}}},
  {"data":{"name":"d"},"transform":[{"filter":"datum.p=='Cw'"}],"mark":{"type":"line","color":"#ff1010","strokeWidth":2.5},
   "encoding":{"y":{"field":"m","type":"quantitative","scale":{"domain":[15.3,37.2],"nice":false,"zero":false}},"strokeDash":{"field":"g","type":"nominal","scale":{"domain":["n","y","o","e"],"range":[[1,0],[10,4,2,4],[3,3],[10,5]]},"legend":null}}},
  {"data":{"name":"notes"},"transform":[{"filter":"datum.p=='Cw' && datum.k=='n'"}],"mark":{"type":"text","fontSize":22,"dx":-17,"color":"#111"},
   "encoding":{"y":{"field":"v","type":"quantitative","scale":{"domain":[15.3,37.2],"nice":false,"zero":false}},"text":{"field":"t"}}},
  {"data":{"name":"notes"},"transform":[{"filter":"datum.p=='Cw' && datum.k=='g'"}],"mark":{"type":"text","fontSize":23,"dx":7,"color":"#111"},
   "encoding":{"y":{"field":"v","type":"quantitative","scale":{"domain":[15.3,37.2],"nice":false,"zero":false}},"text":{"field":"t"}}}
 ]}
]}
],
"config":{
 "view":{"stroke":null},
 "font":"Liberation Sans",
 "axisY":{"domainColor":"#444","domainWidth":1.5,"ticks":false,"labelOverlap":false,"labelFontSize":16,"labelColor":"#222","labelPadding":5,"titleFontSize":16,"titleFontWeight":"bold","titleColor":"#111","titlePadding":11,"gridColor":"#d6d6d6","gridWidth":2},
 "axisX":{"grid":false,"domainColor":"#444","domainWidth":1.5,"tickColor":"#444","tickSize":5,"labelAngle":0,"labelOverlap":false,"labelFontSize":16,"labelColor":"#222","labelPadding":8,"titleFontSize":17,"titleFontWeight":"bold","titleColor":"#111","titlePadding":14},
 "title":{"fontSize":18,"fontWeight":"bold","anchor":"start","frame":"bounds","offset":4,"color":"#000"},
 "text":{"baseline":"middle","align":"center"}
}
}
